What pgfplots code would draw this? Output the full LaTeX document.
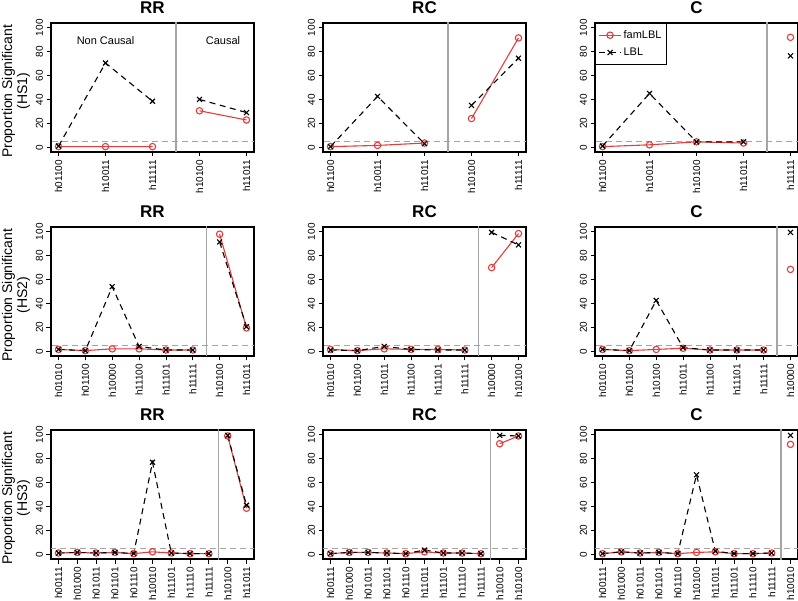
\documentclass[border=0pt]{standalone}
\usepackage{fontspec}
\setmainfont{Liberation Sans}
\usepackage{pgfplots}
\pgfplotsset{compat=1.18}

\definecolor{famred}{RGB}{226,60,60}
\definecolor{refgray}{RGB}{165,165,165}

\pgfplotsset{
  panel/.style={
    scale only axis, width=203pt, height=129pt, anchor=south west,
    ymin=-4, ymax=104, ytick={0,20,...,100},
    tick align=outside, xtick pos=left, ytick pos=left,
    major tick length=4.5pt,
    every tick/.style={black, line width=0.8pt},
    axis line style={line width=1.1pt},
    unbounded coords=jump, clip=true,
    /pgf/number format/assume math mode=true,
    tick label style={font=\fontsize{10}{10}\selectfont},
    yticklabel style={rotate=90, anchor=south},
    xticklabel style={rotate=90, anchor=east},
    title style={font=\bfseries\fontsize{17}{17}\selectfont, at={(0.5,1)}, anchor=base, yshift=3pt},
    ylabel style={font=\fontsize{14}{15}\selectfont, align=center, at={(axis description cs:-0.172,0.47)}, anchor=center},
  },
  fam/.style={famred, line width=1.1pt, mark=o, mark size=3.2pt, mark options={solid}},
  lbl/.style={black, line width=1.1pt, dash pattern=on 6pt off 4.5pt, mark=x, mark size=3.5pt, mark options={solid}},
  ref/.style={refgray, line width=1.2pt, dash pattern=on 6pt off 4pt, forget plot},
  sep/.style={refgray, line width=1.3pt, forget plot},
}

\begin{document}
\begin{tikzpicture}
\path[use as bounding box] (0,0) rectangle (798pt,600pt);

% ---------- row 1 (HS1) ----------
\begin{axis}[panel, at={(51pt,448pt)}, title={RR},
  ylabel={Proportion Significant\\(HS1)},
  xmin=0.84, xmax=5.16, xtick={1,...,5},
  xticklabels={h01100,h10011,h11111,h10100,h11011}]
\addplot[ref] coordinates {(0,5) (20,5)};
\addplot[sep] coordinates {(3.5,-10) (3.5,110)};
\addplot[fam] coordinates {(1,0.5) (2,0.5) (3,0.5) (3.5,nan) (4,30.5) (5,22.8)};
\addplot[lbl] coordinates {(1,1) (2,70.5) (3,38.5) (3.5,nan) (4,40) (5,29)};
\node[font=\fontsize{11}{11}\selectfont] at (axis cs:2,89) {Non Causal};
\node[font=\fontsize{11}{11}\selectfont] at (axis cs:4.5,89) {Causal};
\end{axis}

\begin{axis}[panel, at={(323pt,448pt)}, title={RC},
  xmin=0.84, xmax=5.16, xtick={1,...,5},
  xticklabels={h01100,h10011,h11011,h10100,h11111}]
\addplot[ref] coordinates {(0,5) (20,5)};
\addplot[sep] coordinates {(3.5,-10) (3.5,110)};
\addplot[fam] coordinates {(1,0.5) (2,1.5) (3,3.5) (3.5,nan) (4,24) (5,91.5)};
\addplot[lbl] coordinates {(1,0.5) (2,42.5) (3,3) (3.5,nan) (4,35) (5,74.5)};
\end{axis}

\begin{axis}[panel, at={(595pt,448pt)}, title={C},
  xmin=0.84, xmax=5.16, xtick={1,...,5},
  xticklabels={h01100,h10011,h10100,h11011,h11111},
  legend style={at={(rel axis cs:0,1)}, anchor=north west, draw=black, line width=1pt,
    font=\fontsize{11}{11}\selectfont, inner xsep=3pt, inner ysep=5pt, row sep=4pt,
    cells={anchor=west}},
  legend image code/.code={\draw[mark repeat=2,mark phase=2,#1] plot coordinates {(0pt,0pt) (11pt,0pt) (22pt,0pt)};}]
\addplot[ref] coordinates {(0,5) (20,5)};
\addplot[sep] coordinates {(4.5,-10) (4.5,110)};
\addplot[fam] coordinates {(1,0.5) (2,2) (3,4.5) (4,3.5) (4.5,nan) (5,92)};
\addplot[lbl] coordinates {(1,1) (2,45) (3,4.5) (4,4.5) (4.5,nan) (5,76.5)};
\legend{famLBL\hspace{4pt},LBL}
\end{axis}

% ---------- row 2 (HS2) ----------
\begin{axis}[panel, at={(51pt,244pt)}, title={RR},
  ylabel={Proportion Significant\\(HS2)},
  xmin=0.72, xmax=8.28, xtick={1,...,8},
  xticklabels={h01010,h01100,h10000,h11100,h11101,h11111,h10100,h11011}]
\addplot[ref] coordinates {(0,5) (20,5)};
\addplot[sep] coordinates {(6.5,-10) (6.5,110)};
\addplot[fam] coordinates {(1,1.5) (2,0.5) (3,2) (4,2) (5,1) (6,1) (6.5,nan) (7,98) (8,19.5)};
\addplot[lbl] coordinates {(1,1.5) (2,0.5) (3,54) (4,4) (5,1) (6,1) (6.5,nan) (7,91.5) (8,20.5)};
\end{axis}

\begin{axis}[panel, at={(323pt,244pt)}, title={RC},
  xmin=0.72, xmax=8.28, xtick={1,...,8},
  xticklabels={h01010,h01100,h11011,h11100,h11101,h11111,h10000,h10100}]
\addplot[ref] coordinates {(0,5) (20,5)};
\addplot[sep] coordinates {(6.5,-10) (6.5,110)};
\addplot[fam] coordinates {(1,1.5) (2,0.5) (3,2) (4,1.5) (5,1.5) (6,1) (6.5,nan) (7,70) (8,98.5)};
\addplot[lbl] coordinates {(1,1) (2,0.5) (3,4) (4,1.5) (5,1) (6,1) (6.5,nan) (7,99.5) (8,89)};
\end{axis}

\begin{axis}[panel, at={(595pt,244pt)}, title={C},
  xmin=0.72, xmax=8.28, xtick={1,...,8},
  xticklabels={h01010,h01100,h10100,h11011,h11100,h11101,h11111,h10000}]
\addplot[ref] coordinates {(0,5) (20,5)};
\addplot[sep] coordinates {(7.5,-10) (7.5,110)};
\addplot[fam] coordinates {(1,1.5) (2,0.5) (3,1.5) (4,2.5) (5,1) (6,1) (7,1) (7.5,nan) (8,68.5)};
\addplot[lbl] coordinates {(1,1.5) (2,0.5) (3,42.5) (4,3) (5,1) (6,1) (7,1) (7.5,nan) (8,99.5)};
\end{axis}

% ---------- row 3 (HS3) ----------
\begin{axis}[panel, at={(51pt,41pt)}, title={RR},
  ylabel={Proportion Significant\\(HS3)},
  xmin=0.6, xmax=11.4, xtick={1,...,11},
  xticklabels={h00111,h01000,h01011,h01101,h01110,h10010,h11101,h11110,h11111,h10100,h11011}]
\addplot[ref] coordinates {(0,5) (20,5)};
\addplot[sep] coordinates {(9.5,-10) (9.5,110)};
\addplot[fam] coordinates {(1,1) (2,1.5) (3,1) (4,1.5) (5,0.5) (6,2) (7,1) (8,0.5) (9,0.5) (9.5,nan) (10,99) (11,38.5)};
\addplot[lbl] coordinates {(1,1) (2,1.5) (3,1) (4,1.5) (5,0.5) (6,77) (7,1) (8,0.5) (9,0.5) (9.5,nan) (10,99.5) (11,41)};
\end{axis}

\begin{axis}[panel, at={(323pt,41pt)}, title={RC},
  xmin=0.6, xmax=11.4, xtick={1,...,11},
  xticklabels={h00111,h01000,h01011,h01101,h01110,h11011,h11101,h11110,h11111,h10010,h10100}]
\addplot[ref] coordinates {(0,5) (20,5)};
\addplot[sep] coordinates {(9.5,-10) (9.5,110)};
\addplot[fam] coordinates {(1,0.5) (2,1.5) (3,1.5) (4,1) (5,0.5) (6,2) (7,1) (8,1) (9,0.5) (9.5,nan) (10,92.5) (11,99)};
\addplot[lbl] coordinates {(1,0.5) (2,1.5) (3,1.5) (4,1) (5,0.5) (6,3.5) (7,1) (8,1) (9,0.5) (9.5,nan) (10,99.5) (11,99)};
\end{axis}

\begin{axis}[panel, at={(595pt,41pt)}, title={C},
  xmin=0.6, xmax=11.4, xtick={1,...,11},
  xticklabels={h00111,h01000,h01011,h01101,h01110,h10100,h11011,h11101,h11110,h11111,h10010}]
\addplot[ref] coordinates {(0,5) (20,5)};
\addplot[sep] coordinates {(10.5,-10) (10.5,110)};
\addplot[fam] coordinates {(1,0.5) (2,2) (3,1) (4,1.5) (5,0.5) (6,1.5) (7,2) (8,0.5) (9,0.5) (10,1) (10.5,nan) (11,92)};
\addplot[lbl] coordinates {(1,0.5) (2,2) (3,1) (4,1.5) (5,0.5) (6,66.5) (7,2.5) (8,0.5) (9,0.5) (10,1) (10.5,nan) (11,99.5)};
\end{axis}
\end{tikzpicture}
\end{document}
